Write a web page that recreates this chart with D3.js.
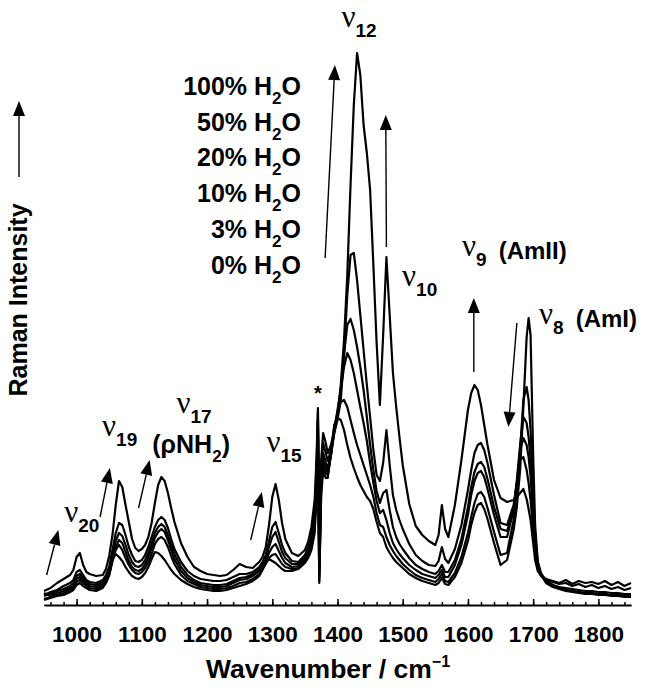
<!DOCTYPE html>
<html><head><meta charset="utf-8">
<script src="https://cdn.jsdelivr.net/npm/d3@7"></script>
<style>body{margin:0;background:#fff;} svg{display:block;}</style>
</head><body>
<svg id="chart" width="645" height="690"></svg>
<script>
const wavenumber = [950,960,970,980,990,995,1000,1005,1010,1015,1020,1030,1040,1045,1050,1055,1060,1065,1070,1075,1080,1085,1090,1095,1100,1105,1110,1115,1120,1125,1130,1135,1140,1145,1150,1160,1170,1180,1190,1200,1210,1220,1230,1240,1250,1260,1270,1280,1285,1290,1295,1300,1305,1310,1315,1320,1330,1340,1350,1355,1360,1365,1368,1370,1372,1375,1378,1382,1385,1390,1395,1400,1405,1410,1415,1420,1425,1430,1435,1440,1445,1450,1455,1460,1465,1470,1475,1480,1485,1490,1495,1500,1510,1520,1530,1540,1550,1555,1560,1565,1570,1580,1590,1600,1605,1610,1615,1620,1625,1630,1640,1650,1660,1670,1675,1680,1685,1690,1693,1696,1700,1703,1707,1712,1720,1730,1740,1750,1760,1770,1780,1790,1800,1810,1820,1830,1840,1850];

const h2o100 = [14,17,22,26,30,35,48,52,40,33,31,29,30,36,49,70,100,124,118,100,83,66,57,54,56,60,68,82,102,120,128,124,112,97,83,62,48,38,34,31,30,29,30,35,41,38,37,43,48,58,80,108,121,105,82,66,52,49,55,63,78,105,150,197,62,145,172,162,152,160,175,190,220,265,330,420,500,552,530,480,452,415,340,262,200,270,348,290,232,198,168,140,101,79,70,64,60,70,100,76,68,100,145,195,212,220,215,200,180,160,125,107,103,105,108,112,116,106,96,85,62,45,34,29,26,24,22,25,21,24,22,23,21,24,20,23,19,22];
const h2o50 = [10,13,15,19,22,25,33,35,30,25,23,22,25,30,38,55,72,82,80,70,58,50,44,43,45,50,58,68,78,85,88,85,77,66,56,43,34,29,26,25,24,24,25,28,31,31,33,38,43,50,64,78,83,72,60,52,44,43,50,57,70,95,140,192,45,135,162,152,144,155,172,185,205,250,310,350,352,325,290,255,220,188,155,130,124,142,175,140,110,95,85,76,61,50,44,40,39,44,58,46,42,56,80,115,135,152,160,162,155,142,110,82,80,100,122,145,148,135,122,105,75,52,37,30,25,23,21,22,19,21,18,20,17,19,16,18,15,17];
const h2o20 = [9,11,14,16,19,22,29,31,27,23,21,20,23,27,35,50,64,72,69,60,50,43,39,38,40,45,52,62,72,78,81,78,70,60,51,38,30,25,22,21,20,20,21,24,27,28,31,36,41,47,58,68,73,63,53,47,41,41,47,53,65,88,130,186,35,128,152,143,137,150,172,190,215,250,280,286,275,258,238,215,188,160,135,114,102,112,115,95,78,68,61,56,47,40,36,33,31,34,40,33,33,45,66,98,118,133,141,143,138,126,98,76,74,96,122,155,167,160,148,128,90,60,40,30,24,20,18,17,16,15,14,14,13,13,12,12,11,11];
const h2o10 = [12,9,12,14,17,19,26,28,24,21,19,18,21,25,32,46,58,65,62,53,44,38,35,34,36,41,48,57,67,73,76,73,65,55,46,34,27,23,20,19,18,18,19,22,25,26,29,34,39,44,52,58,61,54,47,42,38,39,45,51,61,82,125,180,28,122,146,137,133,150,175,195,215,238,252,245,232,215,198,182,164,142,122,104,92,95,85,72,62,56,51,47,40,35,31,29,27,30,35,28,28,40,60,90,110,124,132,134,128,116,90,68,68,95,125,160,188,182,168,145,100,64,40,30,22,19,17,15,14,13,12,12,11,11,10,10,9,9];
const h2o3 = [6,8,10,12,15,17,23,25,22,19,17,16,19,23,30,44,55,60,55,47,40,35,32,31,33,37,43,51,61,66,68,65,58,49,41,30,24,21,18,17,16,16,17,19,22,23,26,31,36,41,47,50,51,46,41,38,36,37,43,49,58,77,118,175,24,116,140,132,130,150,178,192,203,205,198,185,172,160,150,140,130,120,108,92,80,78,68,60,54,49,45,41,35,30,27,25,23,26,31,24,23,32,48,72,88,102,111,113,108,97,73,50,52,85,115,155,205,218,205,175,115,70,42,30,22,18,16,14,13,12,11,11,10,10,9,9,8,8];
const h2o0 = [5,7,9,10,13,15,20,22,19,17,15,14,17,22,30,45,51,48,44,38,33,29,27,26,28,32,38,46,53,52,49,45,40,35,31,25,21,18,16,15,14,14,15,17,19,21,24,29,35,42,46,44,42,39,36,34,34,36,42,47,55,72,112,168,22,110,134,127,127,152,180,187,185,175,160,147,137,128,120,114,108,104,96,83,72,68,58,52,47,43,40,37,31,27,24,22,20,22,27,21,20,28,42,64,80,92,100,102,96,86,62,40,45,75,98,135,198,268,287,270,150,80,44,32,24,20,17,15,14,13,12,12,11,11,10,10,9,9];

const seriesLabels = ["100%", "50%", "20%", "10%", "3%", "0%"];
const seriesValues = [h2o100, h2o50, h2o20, h2o10, h2o3, h2o0];
const majorTicks = [1000,1100,1200,1300,1400,1500,1600,1700,1800];
const minorTicks = d3.range(960, 1850, 20);

const svg = d3.select("#chart");
const x = d3.scaleLinear().domain([950, 1850]).range([44, 631]);
const y = d3.scaleLinear().domain([0, 560]).range([605, 45]);

const sans = "Liberation Sans, Arial, sans-serif";
const serif = "Liberation Serif, Times New Roman, serif";

const line = d3.line().x((d,i)=>x(wavenumber[i])).y(d=>y(d));
svg.append("g").selectAll("path").data(seriesValues).join("path")
  .attr("d", d=>line(d)).attr("fill","none").attr("stroke","#000")
  .attr("stroke-width",2.2).attr("stroke-linejoin","round");

const gx = svg.append("g").attr("transform",`translate(0,${y(0)})`);
gx.call(d3.axisBottom(x).tickValues(minorTicks).tickSizeInner(-3).tickSizeOuter(0).tickFormat(""));
gx.selectAll(".tick line").attr("stroke-width",1.5);
const gx2 = svg.append("g").attr("transform",`translate(0,${y(0)})`);
gx2.call(d3.axisBottom(x).tickValues(majorTicks).tickSizeInner(-6).tickSizeOuter(0).tickFormat(d3.format("d")));
gx2.select(".domain").attr("stroke-width",2.2);
gx2.selectAll(".tick line").attr("stroke-width",1.5);
gx2.selectAll(".tick text").attr("y",37).attr("dy",0)
  .attr("font-family",sans).attr("font-weight","bold").attr("font-size",22.5).attr("fill","#000");
svg.selectAll(".domain").attr("stroke","#000");

const xt = svg.append("text").attr("x",328).attr("y",678).attr("text-anchor","middle")
  .attr("font-family",sans).attr("font-weight","bold").attr("font-size",26.5);
xt.append("tspan").text("Wavenumber / cm");
xt.append("tspan").attr("dy",-11).attr("font-size",16).text("\u22121");

svg.append("text").attr("transform","translate(27,300) rotate(-90)").attr("text-anchor","middle")
  .attr("font-family",sans).attr("font-weight","bold").attr("font-size",25).text("Raman Intensity");

function arrow(x1,y1,x2,y2,len=15,w=12){
  const dx=x2-x1, dy=y2-y1, L=Math.hypot(dx,dy), ux=dx/L, uy=dy/L;
  const bx=x2-ux*len, by=y2-uy*len;
  svg.append("line").attr("x1",x1).attr("y1",y1).attr("x2",bx).attr("y2",by).attr("stroke","#000").attr("stroke-width",1.4);
  svg.append("path").attr("d",`M${x2},${y2}L${bx-uy*w/2},${by+ux*w/2}L${bx+uy*w/2},${by-ux*w/2}Z`).attr("fill","#000");
}
arrow(19,177,19,101);
const arrowsData = [
  [954,30,972,75],[1036,88,1051,137],[1095,97,1112,145],[1267,65,1284,113],
  [1381,347,1396,540],[1475,358,1474,490],[1609,233,1609,307],[1675,282,1662,178]
];
arrowsData.forEach(a=>arrow(x(a[0]),y(a[1]),x(a[2]),y(a[3])));

seriesLabels.forEach((s,i)=>{
  const t = svg.append("text").attr("x",301).attr("y",95+i*35.7).attr("text-anchor","end")
    .attr("font-family",sans).attr("font-weight","bold").attr("font-size",25);
  t.append("tspan").text(s+" H");
  t.append("tspan").attr("dy",9).attr("font-size",17).text("2");
  t.append("tspan").attr("dy",-9).text("O");
});

function nu(px,py,sub,extra,subDy=10){
  const t = svg.append("text").attr("x",px).attr("y",py).attr("font-family",sans).attr("font-weight","bold");
  t.append("tspan").attr("font-family",serif).attr("font-weight","normal").attr("font-size",31).text("\u03bd");
  t.append("tspan").attr("dy",subDy).attr("font-size",19).text(sub);
  if(extra){ t.append("tspan").attr("dy",-subDy+3).attr("font-size",24).text(extra); }
}
nu(x(1406),y(578),"12");
nu(x(1499),y(319),"10");
nu(x(1591),y(349),"9","\u2002(AmII)");
nu(x(1709),y(281),"8","\u2002(AmI)");
nu(x(981),y(83),"20");
nu(x(1039),y(169),"19");
nu(x(1291),y(153),"15");
nu(x(1153),y(192),"17");
const rho = svg.append("text").attr("x",x(1116)).attr("y",y(152)).attr("font-family",sans).attr("font-weight","bold").attr("font-size",25);
rho.append("tspan").text("(\u03c1NH");
rho.append("tspan").attr("dy",9).attr("font-size",17).text("2");
rho.append("tspan").attr("dy",-9).text(")");
svg.append("text").attr("x",x(1370)).attr("y",y(205)).attr("text-anchor","middle")
  .attr("font-family",sans).attr("font-weight","bold").attr("font-size",20).text("*");
</script>
</body></html>
